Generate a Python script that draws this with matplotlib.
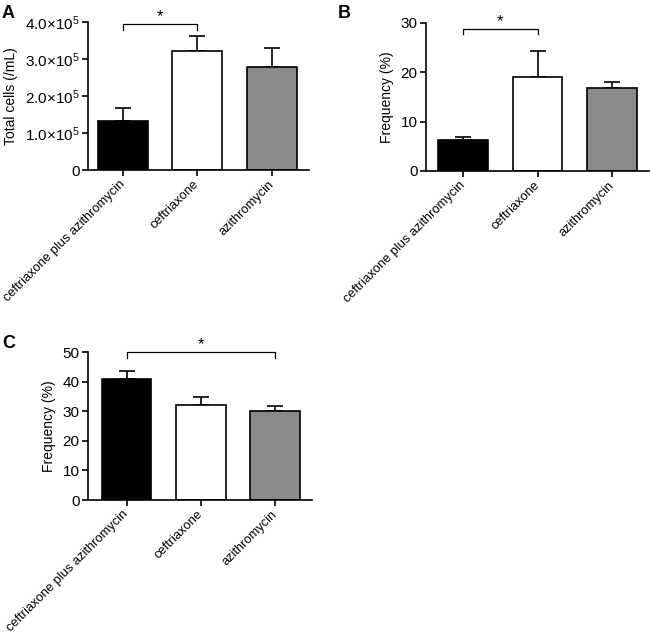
import matplotlib
matplotlib.use("Agg")
import matplotlib.pyplot as plt

plt.rcParams['font.family'] = ['Liberation Sans', 'DejaVu Sans']
plt.rcParams['mathtext.fontset'] = 'custom'
plt.rcParams['mathtext.rm'] = 'Liberation Sans'
plt.rcParams['mathtext.it'] = 'Liberation Sans'

categories = ["ceftriaxone plus azithromycin", "ceftriaxone", "azithromycin"]
colors = ["#000000", "#ffffff", "#8a8a8a"]

a_means = [1.33e5, 3.21e5, 2.78e5]
a_err = [0.35e5, 0.41e5, 0.52e5]
b_means = [6.3, 19.1, 16.8]
b_err = [0.6, 5.2, 1.2]
c_means = [40.9, 32.0, 30.1]
c_err = [2.6, 2.9, 1.7]

a_ticks = [0, 1e5, 2e5, 3e5, 4e5]
a_ticklabels = ["0", r"1.0$\times$10$^5$", r"2.0$\times$10$^5$", r"3.0$\times$10$^5$", r"4.0$\times$10$^5$"]
b_ticks = [0, 10, 20, 30]
c_ticks = [0, 10, 20, 30, 40, 50]

fig = plt.figure(figsize=(6.5, 6.37), dpi=100)
axA = fig.add_axes([88/650, 1-170/637, 221/650, 148/637])
axB = fig.add_axes([426/650, 1-171/637, 223/650, 148/637])
axC = fig.add_axes([88/650, 1-500/637, 224/650, 148/637])

lw = 1.2

def draw(ax, means, errs, ticks, ticklabels, ylabel, xlim, ylim):
    x = list(range(len(categories)))
    ax.bar(x, means, width=0.67, color=colors, edgecolor='black', linewidth=lw, zorder=2)
    ax.errorbar(x, means, yerr=[[0]*len(errs), errs], fmt='none', ecolor='black',
                elinewidth=lw, capsize=6, capthick=lw, zorder=1)
    ax.set_xlim(*xlim)
    ax.set_ylim(*ylim)
    ax.set_yticks(ticks)
    ax.set_yticklabels(ticklabels, fontsize=11)
    ax.set_xticks(x)
    ax.set_xticklabels(categories, rotation=45, ha='right', va='center',
                       rotation_mode='anchor', fontsize=9.3)
    ax.set_ylabel(ylabel, fontsize=10, labelpad=5)
    for s in ['top', 'right']:
        ax.spines[s].set_visible(False)
    for s in ['left', 'bottom']:
        ax.spines[s].set_linewidth(lw)
    ax.tick_params(axis='both', direction='out', length=4, width=lw, pad=2)
    ax.tick_params(axis='x', pad=5)

def bracket(ax, x1, x2, y, h):
    ax.plot([x1, x1, x2, x2], [y - h, y, y, y - h], color='black', lw=0.9, clip_on=False)
    ax.text((x1 + x2) / 2, y, "*", ha='center', va='bottom', fontsize=12)

draw(axA, a_means, a_err, a_ticks, a_ticklabels, "Total cells (/mL)", (-0.47, 2.5), (0, 4e5))
bracket(axA, 0, 1, 3.95e5, 0.17e5)
draw(axB, b_means, b_err, b_ticks, [str(t) for t in b_ticks], "Frequency (%)", (-0.5, 2.5), (0, 30))
bracket(axB, 0, 1, 28.7, 0.9)
draw(axC, c_means, c_err, c_ticks, [str(t) for t in c_ticks], "Frequency (%)", (-0.52, 2.5), (0, 50))
bracket(axC, 0, 2, 50, 2.0)

for lab, (px, py) in {"A": (2, 5), "B": (338, 5), "C": (2, 335)}.items():
    fig.text(px/650, 1-py/637, lab, fontsize=13, fontweight='bold', va='top', ha='left')

fig.savefig("out.png", dpi=100)
